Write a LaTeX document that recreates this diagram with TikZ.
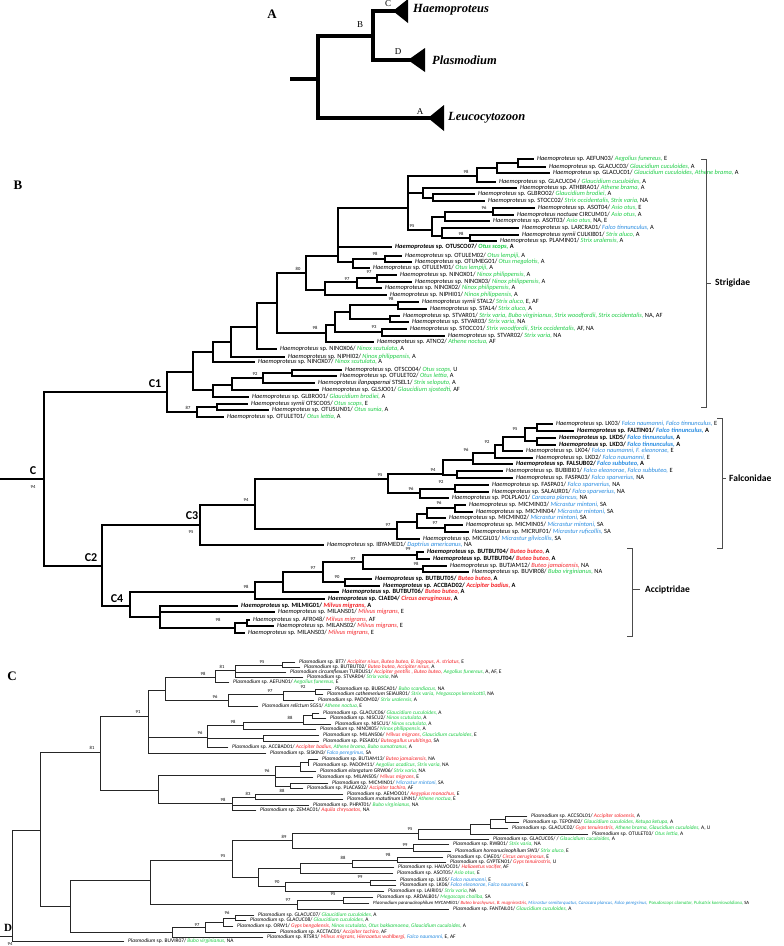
\documentclass[tikz,border=0pt]{standalone}
\usepackage{fontspec}
\setmainfont{Liberation Serif}
\newfontfamily\carl{Carlito}
\definecolor{hg}{RGB}{30,205,70}
\definecolor{hbl}{RGB}{40,140,225}
\definecolor{hrd}{RGB}{245,35,40}
\newcounter{lfc}\newcounter{bsc}
\newcommand\Hp{\textit{Haemoproteus}}
\newcommand\Pl{\textit{Plasmodium}}
\newcommand\hG[1]{\textcolor{hg}{\textit{#1}}}
\newcommand\hB[1]{\textcolor{hbl}{\textit{#1}}}
\newcommand\hR[1]{\textcolor{hrd}{\textit{#1}}}
\newcommand\nd[5]{\draw[br] (#1,#3) -- (#2,#3) (#2,#4) -- (#2,#5);}
\newcommand\lf[5][]{\draw[br,#1] (#2,#4) -- (#3,#4);\stepcounter{lfc}\edef\lfname{lf\arabic{lfc}}\node[lbl] (\lfname) at (#3+4,#4) {#5};}
\newcommand\bs[3]{\stepcounter{bsc}\edef\bsname{bs\arabic{bsc}}\node[bsl] (\bsname) at (#1,#2) {#3};}
\begin{document}
\begin{tikzpicture}[x=1pt,y=-1pt,
  br/.style={line width=1.1pt,line cap=rect},
  tb/.style={line width=2pt},
  abr/.style={line width=3.6pt,line cap=rect},
  lbl/.style={font=\carl\fontsize{6.4}{7}\selectfont,anchor=west,inner sep=0pt},
  bsl/.style={font=\carl\fontsize{4.6}{4.6}\selectfont,inner sep=0pt},
  clab/.style={font=\carl\bfseries\fontsize{12}{12}\selectfont,inner sep=0pt},
  flab/.style={font=\carl\bfseries\fontsize{9.5}{9.5}\selectfont,anchor=west,inner sep=0pt},
  plab/.style={font=\bfseries\fontsize{13}{13}\selectfont,inner sep=0pt},
  glab/.style={font=\bfseries\itshape\fontsize{12.5}{13}\selectfont,anchor=west,inner sep=0pt},
  alab/.style={font=\fontsize{9}{9}\selectfont,inner sep=0pt},
  brk/.style={line width=0.6pt,black!70}]
\fill[white] (0,0) rectangle (784,946);
\useasboundingbox (0,0) rectangle (784,946);
% ================= Panel A =================
\node[plab] (pA) at (272,14) {A};
\draw[abr] (292,79) -- (318,79);
\draw[abr] (318,36) -- (318,118);
\draw[abr] (318,36) -- (373,36);
\draw[abr] (373,11) -- (373,60);
\draw[abr] (373,11) -- (394,11);
\draw[abr] (373,60) -- (409,60);
\draw[abr] (318,118) -- (429,118);
\fill (393,11) -- (408,-1) -- (408,23) -- cycle;
\fill (408,60) -- (425,48) -- (425,72) -- cycle;
\fill (428,118) -- (444,105) -- (444,131) -- cycle;
\node[alab] (aB) at (360,25) {B};
\node[alab] (aC) at (388,4) {C};
\node[alab] (aD) at (398,52) {D};
\node[alab] (aA) at (420,112) {A};
\node[glab] (gH) at (413,10) {Haemoproteus};
\node[glab] (gP) at (432,60) {Plasmodium};
\node[glab] (gL) at (448,118) {Leucocytozoon};
% ================= Panel B =================
\node[plab] (pB) at (18,185) {B};
\draw[br] (0,479) -- (44,479) (44,392) -- (44,566);
\node[clab] (cC) at (33,471) {C};
\bs{33}{487}{94}
\nd{44}{167}{392}{372}{412}
\node[clab] (cC1) at (155,384) {C1};
\nd{167}{193}{372}{352}{390}
\nd{193}{213}{352}{342}{362}
\nd{213}{231}{342}{327}{357}
\nd{231}{257}{327}{303}{349}
\nd{257}{277}{303}{273}{333}
\nd{277}{306}{273}{256}{290}\bs{298}{269}{80}
\nd{306}{338}{256}{208}{262}
\nd{338}{408}{208}{176}{230}
\nd{408}{477}{176}{168}{182}\bs{466}{172}{98}
\nd{477}{497}{168}{163}{173}
\nd{497}{518}{163}{159}{167}
\lf{518}{533}{159}{\Hp{} sp. AEFUN03/ \hG{Aegolius funereus,} E}
\lf{518}{545}{167}{\Hp{} sp. GLACUC03/ \hG{Glaucidium cuculoides,} A}
\lf{497}{549}{173}{\Hp{} sp. GLACUC01/ \hG{Glaucidium cuculoides, Athene brama,} A}
\lf{477}{495}{182}{\Hp{} sp. GLACUC04 / \hG{Glaucidium cuculoides,} A}
\nd{408}{423}{193}{188}{198}
\lf{423}{516}{188}{\Hp{} sp. ATHBRA01/ \hG{Athene brama,} A}
\nd{423}{433}{198}{194}{201}
\lf{433}{474}{194}{\Hp{} sp. GLBRO02/ \hG{Glaucidium brodiei,} A}
\lf{433}{484}{201}{\Hp{} sp. STOCC02/ \hG{Strix occidentalis, Strix varia,} NA}
\nd{408}{432}{230}{217}{236}\bs{412}{226}{95}
\nd{432}{445}{217}{212}{221}
\nd{445}{493}{212}{208}{215}\bs{484}{208}{96}
\lf[tb]{493}{534}{208}{\Hp{} sp. ASOT04/ \hG{Asio otus,} E}
\lf{493}{513}{215}{\textit{Haemoproteus noctuae} CIRCUM01/ \hG{Asio otus,} A}
\lf{445}{489}{221}{\Hp{} sp. ASOT03/ \hG{Asio otus,} NA, E}
\nd{432}{442}{236}{228}{238}
\lf{442}{518}{228}{\Hp{} sp. LARCRA01/ \hB{Falco tinnunculus,} A}
\nd{442}{470}{238}{235}{241}\bs{461}{234}{98}
\lf{470}{518}{235}{\textit{Haemoproteus syrnii} CULKIB01/ \hG{Strix aluco,} A}
\lf{470}{496}{241}{\Hp{} sp. PLAMIN01/ \hG{Strix uralensis,} A}
\lf[tb]{338}{391}{247}{\bfseries\Hp{} sp. OTUSCO07/ \hG{Otus scops,} A}
\nd{338}{353}{262}{259}{268}
\nd{353}{385}{259}{256}{262}\bs{375}{254}{98}
\lf{385}{401}{256}{\Hp{} sp. OTULEM02/ \hG{Otus lempiji,} A}
\lf{385}{411}{262}{\Hp{} sp. OTUMEG01/ \hG{Otus megalotis,} A}
\lf{353}{369}{268}{\Hp{} sp. OTULEM01/ \hG{Otus lempiji,} A}
\nd{306}{325}{290}{282}{295}
\nd{325}{357}{282}{278}{288}\bs{347}{279}{97}
\nd{357}{377}{278}{275}{282}\bs{369}{272}{97}
\lf{377}{396}{275}{\Hp{} sp. NINOX01/ \hG{Ninox philippensis,} A}
\lf{377}{411}{282}{\Hp{} sp. NINOX03/ \hG{Ninox philippensis,} A}
\lf{357}{381}{288}{\Hp{} sp. NINOX02/ \hG{Ninox philippensis,} A}
\lf{325}{386}{295}{\Hp{} sp. NIPHI01/ \hG{Ninox philippensis,} A}
\nd{277}{326}{333}{325}{342}\bs{315}{328}{98}
\nd{326}{335}{325}{312}{332}
\nd{335}{350}{312}{305}{319}
\nd{350}{398}{305}{302}{309}\bs{391}{299}{98}
\lf{398}{418}{302}{\textit{Haemoproteus syrnii} STAL2/ \hG{Strix aluco,} E, AF}
\lf{398}{426}{309}{\Hp{} sp. STAL4/ \hG{Strix aluco,} A}
\nd{350}{390}{319}{316}{322}
\lf{390}{399}{316}{\Hp{} sp. STVAR01/ \hG{Strix varia, Bubo virginianus, Strix woodfordii, Strix occidentalis,} NA, AF}
\lf{390}{408}{322}{\Hp{} sp. STVAR03/ \hG{Strix varia,} NA}
\nd{335}{382}{332}{329}{336}\bs{374}{327}{93}
\lf{382}{406}{329}{\Hp{} sp. STOCC01/ \hG{Strix woodfordii, Strix occidentalis,} AF, NA}
\lf{382}{444}{336}{\Hp{} sp. STVAR02/ \hG{Strix varia,} NA}
\lf{326}{373}{342}{\Hp{} sp. ATNO2/ \hG{Athene noctua,} AF}
\lf{257}{276}{349}{\Hp{} sp. NINOX06/ \hG{Ninox scutulata,} A}
\lf{231}{284}{357}{\Hp{} sp. NIPHI02/ \hG{Ninox philippensis,} A}
\lf{213}{254}{362}{\Hp{} sp. NINOX07/ \hG{Ninox scutulata,} A}
\nd{193}{213}{390}{385}{397}
\nd{213}{232}{385}{378}{390}
\nd{232}{263}{378}{373}{383}\bs{255}{374}{92}
\nd{263}{292}{373}{370}{376}
\lf[tb]{292}{341}{370}{\Hp{} sp. OTSCO04/ \hG{Otus scops,} U}
\lf{292}{336}{376}{\Hp{} sp. OTULET02/ \hG{Otus lettia,} A}
\lf{263}{314}{383}{\textit{Haemoproteus ilanpapernai} STSEL1/ \hG{Strix seloputo,} A}
\lf{232}{318}{390}{\Hp{} sp. GLSJO01/ \hG{Glaucidium sjostedti,} AF}
\lf{213}{248}{397}{\Hp{} sp. GLBRO01/ \hG{Glaucidium brodiei,} A}
\nd{167}{197}{412}{407}{417}\bs{188}{408}{87}
\nd{197}{217}{407}{404}{410}
\lf[tb]{217}{247}{404}{\textit{Haemoproteus syrnii} OTSCO05/ \hG{Otus scops,} E}
\lf{217}{268}{410}{\Hp{} sp. OTUSUN01/ \hG{Otus sunia,} A}
\lf{197}{223}{417}{\Hp{} sp. OTULET01/ \hG{Otus lettia,} A}
% C2 / C3
\nd{44}{102}{566}{525}{606}
\node[clab] (cC2) at (91,558) {C2};
\nd{102}{200}{525}{505}{545}
\node[clab] (cC3) at (192,516) {C3};
\bs{191}{532}{95}
\nd{200}{255}{505}{479}{529}\bs{246}{500}{94}
\nd{255}{388}{479}{474}{493}\bs{380}{475}{95}
\nd{388}{443}{474}{460}{475}\bs{433}{470}{94}
\nd{443}{473}{460}{453}{464}
\nd{473}{495}{453}{445}{458}\bs{466}{450}{96}
\nd{495}{503}{445}{437}{451}\bs{487}{442}{92}
\nd{503}{525}{437}{428}{441}\bs{515}{429}{95}
\nd{525}{537}{428}{424}{431}
\lf{537}{552}{424}{\Hp{} sp. LK03/ \hB{Falco naumanni, Falco tinnunculus,} E}
\lf[tb]{537}{573}{431}{\bfseries\Hp{} sp. FALTIN01/ \hB{Falco tinnunculus,} A}
\nd{525}{537}{441}{438}{445}
\lf[tb]{537}{555}{438}{\bfseries\Hp{} sp. LKD5/ \hB{Falco tinnunculus,} A}
\lf[tb]{537}{555}{445}{\bfseries\Hp{} sp. LKD3/ \hB{Falco tinnunculus,} A}
\lf{503}{522}{451}{\Hp{} sp. LK04/ \hB{Falco naumanni, F. eleonorae,} E}
\lf{495}{532}{458}{\Hp{} sp. LKD2/ \hB{Falco naumanni,} E}
\lf[tb]{473}{512}{464}{\bfseries\Hp{} sp. FALSUB02/ \hB{Falco subbuteo,} A}
\nd{443}{457}{475}{471}{478}
\lf{457}{502}{471}{\Hp{} sp. BUBIBI01/ \hB{Falco eleonorae, Falco subbuteo,} E}
\lf{457}{512}{478}{\Hp{} sp. FASPA03/ \hB{Falco sparverius,} NA}
\nd{388}{420}{493}{489}{498}\bs{411}{489}{96}
\nd{420}{455}{489}{485}{492}\bs{441}{482}{92}
\lf{455}{488}{485}{\Hp{} sp. FASPA01/ \hB{Falco sparverius,} NA}
\lf{455}{488}{492}{\Hp{} sp. SALAUR01/ \hB{Falco sparverius,} NA}
\lf{420}{448}{498}{\Hp{} sp. POLPLA01/ \hB{Caracara plancus,} NA}
\nd{255}{397}{529}{522}{539}\bs{388}{525}{97}
\nd{397}{417}{522}{514}{528}
\nd{417}{427}{514}{508}{518}
\nd{427}{455}{508}{505}{512}\bs{439}{503}{96}
\lf{455}{465}{505}{\Hp{} sp. MICMIN03/ \hB{Micrastur mintoni,} SA}
\lf{455}{472}{512}{\Hp{} sp. MICMIN04/ \hB{Micrastur mintoni,} SA}
\lf{427}{445}{518}{\Hp{} sp. MICMIN02/ \hB{Micrastur mintoni,} SA}
\nd{417}{445}{528}{525}{532}\bs{435}{523}{97}
\lf{445}{462}{525}{\Hp{} sp. MICMIN05/ \hB{Micrastur mintoni,} SA}
\lf{445}{468}{532}{\Hp{} sp. MICRUF01/ \hB{Micrastur ruficollis,} SA}
\lf{397}{419}{539}{\Hp{} sp. MICGIL01/ \hB{Micrastur gilvicollis,} SA}
\lf{200}{323}{545}{\Hp{} sp. IBYAMED1/ \hB{Daptrius americanus,} NA}
% C4
\nd{102}{130}{606}{592}{617}
\node[clab] (cC4) at (117,599) {C4};
\nd{130}{255}{592}{582}{599}\bs{246}{587}{98}
\nd{255}{283}{582}{572}{592}
\nd{283}{323}{572}{562}{582}\bs{313}{568}{97}
\nd{323}{363}{562}{555}{569}\bs{353}{559}{97}
\nd{363}{417}{555}{552}{559}\bs{408}{549}{99}
\lf[tb]{417}{423}{552}{\bfseries\Hp{} sp. BUTBUT04/ \hR{Buteo buteo,} A}
\lf[tb]{417}{429}{559}{\bfseries\Hp{} sp. BUTBUT04/ \hR{Buteo buteo,} A}
\nd{363}{423}{569}{566}{572}\bs{416}{564}{98}
\lf{423}{446}{566}{\Hp{} sp. BUTJAM12/ \hR{Buteo jamaicensis,} NA}
\lf{423}{468}{572}{\Hp{} sp. BUVIR08/ \hG{Bubo virginianus,} NA}
\nd{323}{345}{582}{579}{586}\bs{337}{577}{90}
\lf[tb]{345}{371}{579}{\bfseries\Hp{} sp. BUTBUT05/ \hR{Buteo buteo,} A}
\lf[tb]{345}{379}{586}{\bfseries\Hp{} sp. ACCBAD02/ \hR{Accipiter badius,} A}
\lf[tb]{283}{338}{592}{\bfseries\Hp{} sp. BUTBUT06/ \hR{Buteo buteo,} A}
\lf[tb]{255}{324}{599}{\bfseries\Hp{} sp. CIAE04/ \hR{Circus aeruginosus,} A}
\nd{130}{160}{617}{606}{628}
\lf[tb]{160}{237}{606}{\bfseries\Hp{} sp. MILMIG01/ \hR{Milvus migrans,} A}
\lf{160}{274}{612}{\Hp{} sp. MILANS01/ \hR{Milvus migrans,} E}
\nd{160}{235}{628}{623}{633}\bs{218}{620}{98}
\nd{235}{247}{623}{620}{626}
\lf{247}{249}{620}{\Hp{} sp. AFR048/ \hR{Milvus migrans,} AF}
\lf{247}{273}{626}{\Hp{} sp. MILANS02/ \hR{Milvus migrans,} E}
\lf{235}{244}{633}{\Hp{} sp. MILANS03/ \hR{Milvus migrans,} E}
% brackets
\draw[brk] (701,159) -- (706,159) -- (706,407) -- (701,407) (706,283) -- (711,283);
\node[flab] (tS) at (715,283) {Strigidae};
\draw[brk] (717,418) -- (722,418) -- (722,548) -- (717,548) (722,478) -- (726,478);
\node[flab] (tF) at (729,478) {Falconidae};
\draw[brk] (627,548) -- (632,548) -- (632,636) -- (627,636) (632,589) -- (640,589);
\node[flab] (tA) at (645,590) {Acciptridae};
% ================= Panel C =================
\tikzset{lbl/.style={font=\carl\fontsize{5.45}{6}\selectfont,anchor=west,inner sep=0pt},
  br/.style={line width=0.85pt,line cap=rect,black!85}}
\node[plab] (pC) at (12,676) {C};
\nd{0}{12}{936}{830}{941}
\node[plab,font=\bfseries\fontsize{11}{11}\selectfont] (pD) at (8,928) {D};
\bs{10}{944}{94}
\nd{12}{40}{830}{752}{906}
\nd{40}{100}{752}{716}{790}\bs{92}{748}{81}
\nd{100}{148}{716}{690}{753}\bs{138}{712}{91}
\nd{148}{165}{690}{677}{700}
\nd{165}{215}{677}{670}{682}\bs{203}{674}{98}
\nd{215}{235}{670}{665}{677}\bs{222}{667}{81}
\nd{235}{282}{665}{662}{667}\bs{262}{662}{95}
\lf{282}{295}{662}{\Pl{} sp. BT7/ \hR{Accipiter nisus, Buteo buteo, B. lagopus, A. striatus,} E}
\lf{282}{300}{667}{\Pl{} sp. BUTBUT02/ \hR{Buteo buteo, Accipiter nisus,} A}
\lf{235}{286}{672}{\textit{Plasmodium circumflexum} TURDUS1/ \hR{Accipiter gentilis , Buteo buteo,} \hG{Aegolius funereus,} A, AF, E}
\lf{235}{303}{677}{\Pl{} sp. STVAR04/ \hG{Strix varia,} NA}
\lf{215}{229}{682}{\Pl{} sp. AEFUN01/ \hG{Aegolius funereus,} E}
\nd{165}{228}{700}{694}{706}\bs{215}{697}{96}
\nd{228}{283}{694}{691}{700}\bs{270}{691}{97}
\nd{283}{315}{691}{689}{694}\bs{303}{687}{92}
\lf{315}{331}{689}{\Pl{} sp. BUBSCA01/ \hG{Bubo scandiacus,} NA}
\lf{315}{323}{694}{\textit{Plasmodium cathemerium} SEIAUR01/ \hG{Strix varia, Megascops kennicottii,} NA}
\lf{283}{314}{700}{\Pl{} sp. PADOM02/ \hG{Strix uralensis,} A}
\lf{228}{258}{706}{\textit{Plasmodium relictum} SGS1/ \hG{Athene noctua,} E}
\nd{148}{207}{737}{725}{747}\bs{200}{733}{96}
\nd{207}{243}{725}{722}{729}\bs{233}{722}{98}
\nd{243}{303}{722}{715}{724}\bs{290}{718}{88}
\nd{303}{312}{715}{713}{718}
\lf{312}{319}{713}{\Pl{} sp. GLACUC06/ \hG{Glaucidium cuculoides,} A}
\lf{312}{326}{718}{\Pl{} sp. NISCU2/ \hG{Ninox scutulata,} A}
\lf{303}{331}{724}{\Pl{} sp. NISCU1/ \hG{Ninox scutulata,} A}
\lf{243}{316}{729}{\Pl{} sp. NINOX05/ \hG{Ninox philippensis,} A}
\nd{207}{263}{738}{735}{741}
\lf{263}{319}{735}{\Pl{} sp. MILANS06/ \hR{Milvus migrans,} \hG{Glaucidium cuculoides,} E}
\lf{263}{319}{741}{\Pl{} sp. PESAI01/ \hR{Buteogallus urubitinga,} SA}
\lf{207}{228}{747}{\Pl{} sp. ACCBAD01/ \hR{Accipiter badius,} \hG{Athene brama, Bubo sumatranus,} A}
\lf{148}{266}{753}{\Pl{} sp. SISKIN3/ \hB{Falco peregrinus,} SA}
\nd{100}{158}{790}{775}{803}
\nd{158}{275}{775}{766}{786}\bs{267}{771}{96}
\nd{275}{300}{766}{762}{771}
\nd{300}{308}{762}{759}{765}
\lf{308}{318}{759}{\Pl{} sp. BUTJAM13/ \hR{Buteo jamaicensis,} NA}
\lf{308}{309}{765}{\Pl{} sp. PADOM11/ \hG{Aegolius acadicus, Strix varia,} NA}
\lf{300}{316}{771}{\textit{Plasmodium elongatum} GRW06/ \hG{Strix varia,} NA}
\lf{275}{313}{777}{\Pl{} sp. MILANS05/ \hR{Milvus migrans,} E}
\nd{275}{290}{786}{783}{788}
\lf{290}{328}{783}{\Pl{} sp. MICMIN01/ \hB{Micrastur mintoni,} SA}
\lf{290}{303}{788}{\Pl{} sp. PLACAS02/ \hR{Accipiter tachiro,} AF}
\nd{158}{232}{803}{797}{810}\bs{223}{800}{98}
\nd{232}{255}{797}{794}{799}\bs{248}{794}{83}
\bs{282}{791}{88}
\lf{255}{343}{794}{\Pl{} sp. AEMOO01/ \hR{Aegypius monachus,} E}
\lf{255}{343}{799}{\textit{Plasmodium matutinum} LINN1/ \hG{Athene noctua,} E}
\lf{232}{309}{805}{\Pl{} sp. PHPAT01/ \hG{Bubo virginianus,} NA}
\lf{232}{256}{810}{\Pl{} sp. ZEMAC01/ \hR{Aquila chrysaetos,} NA}
% lower clade
\nd{40}{70}{906}{880}{932}
\nd{70}{150}{880}{860}{904}
\nd{150}{232}{860}{840}{877}\bs{223}{856}{95}
\nd{232}{292}{840}{833}{848}\bs{284}{837}{89}
\nd{292}{418}{833}{829}{839}\bs{410}{829}{95}
\nd{418}{470}{829}{824}{834}
\nd{470}{490}{824}{819}{828}
\nd{490}{505}{819}{816}{822}
\lf{505}{527}{816}{\Pl{} sp. ACCSOL01/ \hR{Accipiter soloensis,} A}
\lf{505}{519}{822}{\Pl{} sp. TEPON02/ \hG{Glaucidium cuculoides, Ketupa ketupa,} A}
\lf{490}{508}{828}{\Pl{} sp. GLACUC02/ \hR{Gyps tenuirostris,} \hG{Athene brama, Glaucidium cuculoides,} A, U}
\lf{470}{588}{834}{\Pl{} sp. OTULET03/ \hG{Otus lettia,} A}
\lf{418}{489}{839}{\Pl{} sp. GLACUC05/ / \hG{Glaucidium cuculoides,} A}
\nd{292}{413}{848}{844}{851}\bs{405}{845}{99}
\lf{413}{449}{844}{\Pl{} sp. RWB01/ \hG{Strix varia,} NA}
\lf{413}{451}{851}{\textit{Plasmodium homonucleophilum} SW3/ \hG{Strix aluco,} E}
\nd{232}{258}{877}{868}{886}
\nd{258}{300}{868}{863}{873}
\nd{300}{352}{863}{860}{867}\bs{343}{858}{88}
\nd{352}{397}{860}{857}{862}\bs{388}{855}{98}
\lf{397}{443}{857}{\Pl{} sp. CIAE01/ \hR{Circus aeruginosus,} E}
\lf{397}{446}{862}{\Pl{} sp. GYPTEN01/ \hR{Gyps tenuirostris,} U}
\lf{352}{394}{867}{\Pl{} sp. HALVOC01/ \hR{Haliaeetus vocifer,} AF}
\lf{300}{393}{873}{\Pl{} sp. ASOT05/ \hG{Asio otus,} E}
\nd{258}{285}{886}{882}{891}\bs{277}{882}{90}
\nd{285}{370}{882}{880}{885}\bs{360}{877}{99}
\lf{370}{396}{880}{\Pl{} sp. LK05/ \hB{Falco naumanni,} E}
\lf{370}{396}{885}{\Pl{} sp. LK06/ \hB{Falco eleonorae, Falco naumanni,} E}
\lf{285}{384}{891}{\Pl{} sp. LAIRI01/ \hG{Strix varia,} NA}
\nd{150}{297}{904}{900}{909}\bs{288}{900}{97}
\nd{297}{343}{900}{897}{903}\bs{333}{894}{95}
\lf{343}{373}{897}{\Pl{} sp. ARDALB01/ \hG{Megascops choliba,} SA}
\lf{343}{369}{903}{\fontsize{4.8}{5}\selectfont\textit{Plasmodium paranucleophilum} MYCAME01/ \hR{Buteo brachyurus, B. magnirostris,} \hB{Micrastur semitorquatus, Caracara plancus, Falco peregrinus,} \hG{Pseudoscops clamator, Pulsatrix koeniswaldiana,} SA}
\lf{297}{449}{909}{\Pl{} sp. FANTAIL01/ \hG{Glaucidium cuculoides,} A}
\nd{70}{172}{932}{927}{937}
\nd{172}{205}{927}{922}{932}\bs{197}{925}{97}
\nd{205}{223}{922}{918}{926}
\nd{223}{235}{918}{915}{921}\bs{227}{913}{96}
\lf{235}{254}{915}{\Pl{} sp. GLACUC07/ \hG{Glaucidium cuculoides,} A}
\lf{235}{246}{920}{\Pl{} sp. GLACUC08/ \hG{Glaucidium cuculoides,} A}
\lf{223}{233}{926}{\Pl{} sp. ORW1/ \hR{Gyps bengalensis,} \hG{Ninox scutulata, Otus bakkamoena, Glaucidium cuculoides,} A}
\lf{205}{276}{932}{\Pl{} sp. ACCTAC01/ \hR{Accipiter tachiro,} AF}
\lf{172}{263}{937}{\Pl{} sp. RTSR1/ \hR{Milvus migrans, Hieraaetus wahlbergi,} \hB{Falco naumanni,} E, AF}
\lf{12}{124}{941}{\Pl{} sp. BUVIR07/ \hG{Bubo virginianus,} NA}
\end{tikzpicture}
\end{document}
